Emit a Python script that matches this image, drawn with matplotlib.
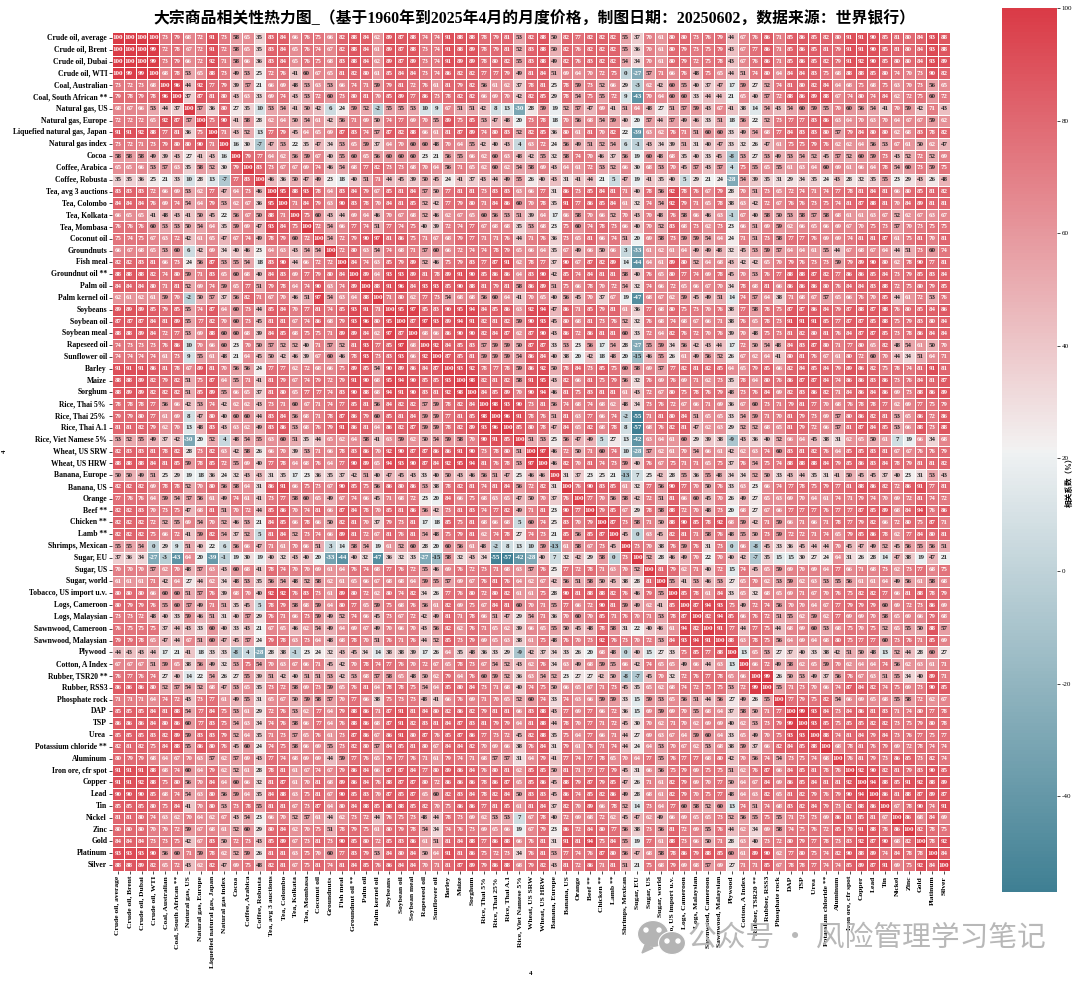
import numpy as np
import pandas as pd
import seaborn as sns
import matplotlib
matplotlib.use("Agg")
import matplotlib.pyplot as plt
from matplotlib.patches import Ellipse, Polygon

labels = ["Crude oil, average", "Crude oil, Brent", "Crude oil, Dubai", "Crude oil, WTI", "Coal, Australian",
	"Coal, South African **", "Natural gas, US", "Natural gas, Europe", "Liquefied natural gas, Japan", "Natural gas index",
	"Cocoa", "Coffee, Arabica", "Coffee, Robusta", "Tea, avg 3 auctions", "Tea, Colombo", "Tea, Kolkata", "Tea, Mombasa",
	"Coconut oil", "Groundnuts", "Fish meal", "Groundnut oil **", "Palm oil", "Palm kernel oil", "Soybeans", "Soybean oil",
	"Soybean meal", "Rapeseed oil", "Sunflower oil", "Barley", "Maize", "Sorghum", "Rice, Thai 5% ", "Rice, Thai 25% ",
	"Rice, Thai A.1", "Rice, Viet Namese 5%", "Wheat, US SRW", "Wheat, US HRW", "Banana, Europe", "Banana, US", "Orange",
	"Beef **", "Chicken **", "Lamb **", "Shrimps, Mexican", "Sugar, EU", "Sugar, US", "Sugar, world",
	"Tobacco, US import u.v.", "Logs, Cameroon", "Logs, Malaysian", "Sawnwood, Cameroon", "Sawnwood, Malaysian", "Plywood",
	"Cotton, A Index", "Rubber, TSR20 **", "Rubber, RSS3", "Phosphate rock", "DAP", "TSP", "Urea ", "Potassium chloride **",
	"Aluminum", "Iron ore, cfr spot", "Copper", "Lead", "Tin", "Nickel", "Zinc", "Gold", "Platinum", "Silver"]

# matrix is symmetric, only the upper blocks are kept
# rows 0-23, cols 0-23
block_a = [
	[100,100,100,100,73,79,68,72,91,73,58,65,35,83,84,66,76,75,66,82,88,84,62,89],
	[100,100,100,99,72,78,67,72,91,72,58,65,35,83,84,65,76,74,67,82,88,84,61,89],
	[100,100,100,99,73,79,66,72,92,71,58,66,36,83,84,65,76,75,68,83,88,84,62,89],
	[100,99,99,100,68,78,53,65,88,73,49,53,25,72,76,41,60,67,65,81,82,80,61,85],
	[73,72,73,68,100,96,44,92,77,79,39,57,21,66,69,48,53,63,53,66,74,71,59,79],
	[79,78,79,78,96,100,37,87,81,80,43,63,33,69,74,43,53,72,60,73,80,81,70,85],
	[68,67,66,53,44,37,100,57,36,80,27,35,10,53,54,41,50,42,6,24,59,52,-2,55],
	[72,72,72,65,92,87,57,100,75,90,41,58,28,62,64,50,54,61,42,56,71,69,50,74],
	[91,91,92,88,77,81,36,75,100,71,43,52,13,77,79,45,64,65,69,87,83,74,57,87],
	[73,72,71,73,79,80,80,90,71,100,16,30,-7,47,53,22,35,47,34,53,65,59,37,64],
	[58,58,58,49,39,43,27,41,43,16,100,79,77,64,62,56,59,67,40,55,60,65,56,60],
	[65,65,66,53,57,63,35,58,52,30,79,100,83,73,67,67,69,74,46,54,68,77,82,73],
	[35,35,36,25,21,33,10,28,13,-7,77,83,100,46,36,50,47,49,23,18,40,51,71,44],
	[83,83,83,72,66,69,53,62,77,47,64,73,46,100,95,88,93,78,64,83,84,79,67,85],
	[84,84,84,76,69,74,54,64,79,53,62,67,36,95,100,71,84,79,63,90,83,78,70,84],
	[66,65,65,41,48,43,41,50,45,22,56,67,50,88,71,100,75,60,43,44,69,64,46,70],
	[76,76,76,60,53,53,50,54,64,35,59,69,47,93,84,75,100,72,54,66,77,74,51,77],
	[75,74,75,67,63,72,42,61,65,47,67,74,49,78,79,60,72,100,54,72,79,90,97,81],
	[66,67,68,65,53,60,6,42,69,34,40,46,23,64,63,43,54,54,100,72,80,63,54,74],
	[82,82,83,81,66,73,24,56,87,53,55,54,18,83,90,44,66,72,72,100,84,74,63,85],
	[88,88,88,82,74,80,59,71,83,65,60,68,40,84,83,69,77,79,80,84,100,89,64,93],
	[84,84,84,80,71,81,52,69,74,59,65,77,51,79,78,64,74,90,63,74,89,100,88,91],
	[62,61,62,61,59,70,-2,50,57,37,56,82,71,67,70,46,51,97,54,63,64,88,100,71],
	[89,89,89,85,79,85,55,74,87,64,60,73,44,85,84,70,77,81,74,85,93,91,71,100],
]
# rows 0-23, cols 24-46
block_b = [
	[87,88,74,74,91,88,88,78,79,81,53,82,88,50,82,77,82,82,82,55,37,70,61],
	[87,88,73,74,91,88,89,78,79,81,52,83,88,50,82,76,82,82,82,55,36,70,61],
	[87,89,73,74,91,89,89,78,80,82,55,83,88,49,82,76,83,82,82,54,34,70,61],
	[84,84,73,74,86,82,82,77,77,79,49,81,84,51,69,64,70,72,75,0,-27,57,71],
	[81,72,76,61,81,79,82,56,61,62,37,78,81,25,78,59,73,52,66,29,-3,62,42],
	[89,77,86,73,78,82,82,66,69,70,42,82,85,29,78,54,75,55,72,9,-43,70,64],
	[55,53,10,9,67,51,51,42,8,13,-30,28,59,19,52,57,47,69,41,51,64,48,27],
	[77,69,70,55,89,75,85,53,47,48,20,73,78,18,70,56,68,54,59,40,20,57,44],
	[82,88,66,61,81,87,89,74,80,83,52,82,85,36,80,61,81,70,82,22,-39,63,62],
	[70,60,60,48,70,64,55,42,40,43,4,63,72,24,56,49,51,52,54,6,-1,43,34],
	[60,60,23,21,56,55,66,62,60,63,48,42,55,32,58,74,70,46,37,56,19,60,48],
	[73,68,70,64,56,71,65,62,60,62,54,58,69,43,64,61,72,53,52,66,30,68,53],
	[45,39,50,45,24,41,37,43,44,49,55,26,40,43,31,41,44,21,5,47,19,41,35],
	[81,84,57,50,77,81,81,73,83,83,63,66,77,31,86,73,85,84,81,71,40,78,56],
	[81,85,52,42,77,79,80,71,84,86,60,70,78,35,91,77,86,85,84,61,32,74,54],
	[67,68,52,46,62,67,65,60,56,53,51,39,64,17,66,58,70,66,52,70,43,70,48],
	[74,75,40,39,72,74,77,67,68,68,35,53,68,23,75,60,74,78,73,66,40,70,52],
	[86,75,71,67,68,79,77,71,71,76,44,71,76,36,73,65,81,66,74,51,20,69,58],
	[68,71,57,60,66,72,74,74,78,79,65,66,64,35,67,49,66,50,66,3,-33,61,62],
	[79,89,52,46,75,79,83,77,87,91,62,78,77,37,90,67,87,82,89,14,-44,64,61],
	[93,89,81,78,89,91,90,85,86,86,64,83,90,42,85,74,84,81,81,58,40,76,65],
	[96,84,93,93,85,90,88,81,79,81,58,86,89,51,75,66,78,70,72,54,32,74,66],
	[80,62,77,73,54,68,68,56,60,64,41,70,65,40,56,45,70,37,67,19,-47,68,67],
	[95,97,85,83,90,95,94,84,85,86,63,92,94,47,86,71,85,79,81,61,36,77,68],
]
# rows 0-23, cols 47-70
block_c = [
	[80,80,73,76,79,44,67,76,86,71,85,86,85,82,80,91,91,90,85,81,80,84,93,88],
	[80,79,73,75,79,43,67,77,86,71,85,86,85,81,79,91,91,90,85,81,80,84,93,88],
	[80,79,72,75,78,43,67,76,86,71,85,86,85,82,79,91,92,90,85,80,80,84,93,89],
	[66,76,48,75,65,44,51,74,80,64,84,84,83,75,68,88,88,85,80,74,70,73,90,82],
	[60,55,40,37,47,17,59,27,52,74,81,80,82,84,64,68,75,68,75,63,70,73,56,65],
	[60,60,33,44,44,21,65,40,57,72,88,86,89,88,67,74,80,74,84,62,72,75,60,72],
	[51,57,59,43,67,41,38,14,54,43,54,60,59,55,70,60,56,54,41,70,59,42,71,43],
	[57,49,46,33,51,18,56,22,52,73,77,77,83,86,63,64,70,63,70,64,67,67,59,62],
	[76,71,51,60,60,33,49,54,68,77,84,83,83,80,57,79,84,80,80,62,68,83,78,82],
	[39,51,31,40,47,33,32,26,47,61,75,75,79,76,62,62,64,56,53,67,61,50,62,47],
	[68,35,40,33,45,-8,53,27,53,49,53,54,52,45,57,52,60,59,73,43,52,72,52,69],
	[70,45,57,43,57,4,75,55,65,55,61,63,64,60,69,61,66,64,78,54,60,73,59,75],
	[40,5,29,21,24,-28,54,39,35,31,29,34,35,24,43,28,32,35,55,23,29,43,26,48],
	[92,78,76,67,79,28,70,51,73,65,72,74,71,74,77,78,81,84,81,66,80,85,81,82],
	[92,79,71,65,78,38,63,42,72,67,76,76,73,75,74,81,87,88,81,70,84,89,81,81],
	[76,58,66,46,63,-1,67,40,58,50,53,58,57,58,68,61,61,63,67,52,62,67,63,67],
	[83,68,73,62,73,23,66,51,69,59,62,66,65,66,69,67,70,75,73,57,70,73,75,75],
	[73,59,59,54,64,24,71,51,73,58,77,77,76,69,69,74,81,81,87,61,75,81,70,81],
	[61,64,49,49,48,32,45,53,59,57,64,64,61,55,44,67,68,67,64,44,51,73,60,74],
	[89,80,52,64,68,43,42,42,65,70,79,76,73,73,59,79,89,90,80,62,78,90,77,81],
	[80,77,74,69,78,45,70,53,76,77,88,88,87,82,77,86,86,85,84,73,79,85,83,84],
	[72,65,66,67,70,34,78,68,81,66,86,86,86,80,76,84,84,83,88,72,75,80,79,85],
	[62,59,45,49,51,14,74,57,64,38,71,68,67,57,65,66,76,70,85,44,61,72,53,76],
	[80,75,73,70,76,38,77,58,78,75,87,87,86,84,79,87,88,87,88,76,80,85,84,86],
]
# rows 24-46, cols 24-46
block_d = [
	[100,87,97,93,89,94,91,82,81,82,59,90,93,45,80,68,81,73,76,52,32,76,68],
	[87,100,68,66,86,90,90,82,84,87,62,87,90,43,86,72,86,81,81,60,33,72,64],
	[97,68,100,92,84,85,83,57,59,59,50,87,87,33,53,23,56,17,54,28,-27,55,59],
	[93,66,92,100,87,85,81,59,59,59,54,86,84,40,38,20,42,18,48,20,-15,46,55],
	[89,86,84,87,100,93,92,78,77,78,59,86,92,50,78,84,73,85,75,60,58,69,57],
	[94,90,85,85,93,100,98,82,81,82,58,91,95,43,82,66,81,75,79,56,32,76,69],
	[91,90,83,81,92,98,100,84,85,89,70,90,94,46,81,75,83,81,81,61,43,72,67],
	[82,82,57,59,78,82,84,100,98,93,90,73,81,56,74,68,74,68,62,48,34,73,76],
	[81,84,59,59,77,81,85,98,100,96,91,78,76,51,81,63,77,66,74,-2,-55,71,81],
	[82,87,59,59,78,82,89,93,96,100,85,80,78,47,84,65,82,68,78,8,-57,68,76],
	[59,62,50,54,59,58,70,90,91,85,100,51,53,25,56,47,49,5,27,13,-42,63,64],
	[90,87,87,86,86,91,90,73,78,80,51,100,97,46,72,50,71,60,74,10,-28,57,62],
	[93,90,87,84,92,95,94,81,76,78,53,97,100,46,82,70,81,74,73,59,40,76,67],
	[45,43,33,40,50,43,46,56,51,47,25,46,46,100,31,37,23,25,21,-13,7,25,42],
	[80,86,53,38,78,82,81,74,81,84,56,72,82,31,100,76,90,83,85,61,32,77,56],
	[68,72,23,20,84,66,75,68,63,65,47,50,70,37,76,100,77,70,56,58,42,72,51],
	[81,86,56,42,73,81,83,74,77,82,49,71,81,23,90,77,100,79,85,67,29,78,58],
	[73,81,17,18,85,75,81,68,66,68,5,60,74,25,83,70,79,100,87,73,58,71,50],
	[76,81,54,48,75,79,81,62,74,78,27,74,73,21,85,56,85,87,100,45,0,63,45],
	[52,60,28,20,60,56,61,48,-2,8,13,10,59,-13,61,58,67,73,45,100,73,70,38],
	[32,33,-27,-15,58,32,43,34,-55,-57,-42,-28,40,7,32,42,29,58,0,73,100,52,28],
	[76,72,55,46,69,76,72,73,71,68,63,57,76,25,77,72,78,71,63,70,52,100,81],
	[68,64,59,55,57,69,67,76,81,76,64,62,67,42,56,51,58,50,45,38,28,81,100],
]
# rows 24-46, cols 47-70
block_e = [
	[74,68,67,66,71,38,76,65,78,73,91,91,91,85,77,87,87,85,88,75,79,83,80,84],
	[82,76,72,70,76,39,70,48,75,73,81,82,80,81,76,84,87,87,85,73,78,86,84,84],
	[34,56,42,43,44,17,72,50,54,48,84,83,87,80,71,77,80,65,82,48,54,61,50,70],
	[26,61,49,56,52,26,67,62,64,41,80,81,76,67,61,80,72,60,70,44,34,51,64,71],
	[77,82,81,82,85,64,65,79,85,66,82,84,85,84,79,89,86,82,75,78,74,81,91,81],
	[76,69,71,62,73,35,78,64,80,76,86,87,87,84,74,86,86,83,86,73,76,84,81,87],
	[80,75,78,76,79,48,73,76,84,69,82,83,86,82,71,84,86,84,86,69,73,88,86,89],
	[72,67,66,71,69,36,67,60,73,71,79,81,77,70,68,76,78,78,77,62,69,77,75,79],
	[80,84,51,65,65,33,54,59,71,70,81,79,73,69,57,80,86,82,81,53,65,86,72,86],
	[82,81,47,62,63,29,52,52,68,65,81,79,72,66,57,81,87,84,85,53,66,88,73,88],
	[61,60,29,39,38,-9,43,36,40,52,66,64,45,38,31,62,65,50,61,7,19,66,34,68],
	[61,70,54,66,61,42,62,63,74,60,83,81,82,76,64,85,85,83,81,67,67,76,76,79],
	[75,71,71,65,75,37,76,54,75,74,88,88,88,84,79,85,86,83,84,78,79,81,81,82],
	[28,55,36,55,48,34,34,52,50,33,43,44,35,31,41,50,45,45,37,40,23,31,53,43],
	[90,77,70,50,76,33,63,23,66,74,77,78,75,79,77,81,88,86,82,72,86,91,77,81],
	[81,66,60,45,70,26,49,27,65,63,69,70,64,61,74,71,79,74,70,69,72,81,74,72],
	[88,72,70,48,73,20,68,27,67,66,77,77,77,76,77,77,87,85,89,68,84,94,76,86],
	[88,90,85,78,92,68,59,42,71,59,66,71,66,71,78,77,79,82,66,72,80,75,87,71],
	[82,81,71,58,76,48,55,50,73,59,72,72,71,74,65,79,85,86,78,62,77,84,80,81],
	[76,59,76,31,73,0,66,-8,45,33,36,45,44,44,70,45,47,49,52,45,56,55,56,51],
	[46,49,70,22,70,40,42,-7,35,15,15,30,27,24,64,31,26,28,14,47,38,19,47,21],
	[79,62,71,40,72,15,74,45,65,59,69,70,69,64,77,66,71,68,73,62,73,77,68,75],
	[55,41,53,46,53,27,65,70,62,53,59,62,63,53,55,56,61,61,64,49,56,61,58,68],
]
# rows 47-70, cols 47-70
block_f = [
	[100,85,78,61,84,33,65,32,68,65,69,71,67,70,76,75,82,82,77,66,81,88,78,79],
	[85,100,87,94,93,75,49,72,74,56,70,70,64,67,77,79,79,79,60,69,72,73,86,69],
	[78,87,100,82,94,85,66,76,72,51,55,62,59,62,77,69,69,70,58,65,69,66,79,68],
	[61,94,82,100,91,77,44,77,75,44,68,69,60,53,68,75,70,75,52,65,55,50,88,57],
	[84,93,94,91,100,88,63,78,75,56,64,69,64,68,80,75,77,77,60,73,76,71,85,69],
	[33,75,85,77,88,100,13,65,53,27,37,40,33,38,42,51,50,48,13,52,44,28,60,27],
	[65,49,66,44,63,13,100,66,72,49,58,62,65,59,70,62,64,64,74,56,62,63,61,71],
	[32,72,76,77,78,65,66,100,99,26,50,53,49,37,56,76,67,63,51,55,34,40,89,71],
	[68,74,72,75,75,53,72,99,100,55,71,73,70,66,74,87,84,82,74,75,69,73,90,85],
	[65,56,51,44,56,27,49,26,55,100,77,79,75,82,54,66,69,65,68,55,58,72,62,67],
	[69,70,55,68,64,37,58,50,71,77,100,99,93,84,73,84,86,81,83,71,74,80,77,78],
	[71,70,62,69,69,40,62,53,73,79,99,100,93,85,75,85,85,82,82,73,75,79,80,78],
	[67,64,59,60,64,33,65,49,70,75,93,93,100,88,74,81,84,79,84,73,76,77,75,77],
	[70,67,62,53,68,38,59,37,66,82,84,85,88,100,68,78,81,76,79,69,72,78,74,74],
	[76,77,77,68,80,42,70,56,74,54,73,75,74,68,100,76,81,79,73,86,85,73,82,74],
	[75,79,69,75,75,51,62,76,87,66,84,85,81,78,76,100,92,90,82,81,79,83,90,85],
	[82,79,69,70,77,50,64,67,84,69,86,85,84,81,81,92,100,94,88,85,91,92,88,89],
	[82,79,70,75,77,48,64,63,82,65,81,82,79,76,79,90,94,100,86,81,88,87,89,87],
	[77,60,58,52,60,13,74,51,74,68,83,82,84,79,73,82,88,86,100,67,78,90,74,91],
	[66,69,65,65,73,52,56,55,75,55,71,73,73,69,86,81,85,81,67,100,86,68,84,69],
	[81,72,69,55,76,44,62,34,69,58,74,75,76,72,85,79,91,88,78,86,100,82,78,75],
	[88,73,66,50,71,28,63,40,73,72,80,79,77,78,73,83,92,87,90,68,82,100,78,92],
	[78,86,79,88,85,60,61,89,90,62,77,80,75,74,82,90,88,89,74,84,78,78,100,84],
	[79,69,68,57,69,27,71,71,85,67,78,78,77,74,74,85,89,87,91,69,75,92,84,100],
]

title = "大宗商品相关性热力图_（基于1960年到2025年4月的月度价格，制图日期：20250602，数据来源：世界银行）"
cbar_label = "相关系数（%）"
mark = "公众号 · 风险管理学习笔记"

serif = ["Liberation Serif", "Noto Sans CJK SC"]
plt.rcParams["font.family"] = serif
plt.rcParams["axes.unicode_minus"] = False

mat = np.zeros((71, 71))
mat[0:24, 0:24] = block_a
mat[0:24, 24:47] = block_b
mat[0:24, 47:71] = block_c
mat[24:47, 24:47] = block_d
mat[24:47, 47:71] = block_e
mat[47:71, 47:71] = block_f
upper = np.triu(mat)
mat = upper + upper.T - np.diag(np.diag(mat))
corr = pd.DataFrame(mat, index=labels, columns=labels)

fig = plt.figure(figsize=(10.8, 9.82), dpi=100)
W, H = 1080.0, 982.0
ax = fig.add_axes([112 / W, 1 - 871 / H, 838 / W, 839 / H])
cax = fig.add_axes([1002 / W, 1 - 892 / H, 55 / W, 884 / H])

cmap = sns.diverging_palette(220, 10, as_cmap=True)
sns.heatmap(corr, ax=ax, cbar_ax=cax, cmap=cmap, vmin=mat.min(), vmax=mat.max(), annot=True, fmt=".0f",
	annot_kws={"size": 5.0, "family": serif, "fontweight": "bold"}, linewidths=0.6, linecolor="white",
	xticklabels=True, yticklabels=True)

ax.tick_params(axis="both", length=2, width=0.5, pad=1.5)
plt.setp(ax.get_xticklabels(), rotation=90, fontsize=5.4, fontweight="bold")
plt.setp(ax.get_yticklabels(), rotation=0, fontsize=5.5, fontweight="bold")
ax.set_xlabel("4", fontsize=5, fontweight="bold", labelpad=0)
ax.xaxis.set_label_coords(0.5, -0.119)
ax.set_ylabel("4", fontsize=5, fontweight="bold")
ax.yaxis.set_label_coords(-0.125, 0.5)
fig.text(534 / W, 1 - 20 / H, title, ha="center", va="center", fontsize=11.4, fontweight="bold")

cax.tick_params(length=2, width=0.5, labelsize=5, pad=1.5)
cax.set_ylabel(cbar_label, fontsize=5.5, fontweight="bold", va="center")
cax.yaxis.set_label_coords(1.24, 0.466)
for spine in cax.spines.values():
	spine.set_visible(False)

# watermark in the lower right corner
gray = "#b4b4b4"
fig.text(688 / W, 1 - 938 / H, mark, ha="left", va="center", fontsize=20.7, color=gray,
	family=["Noto Sans CJK SC", "DejaVu Sans"], alpha=0.95)
bubbles = [(653, 934, 31, 27), (672, 943, 27, 23)]
for bx, by, bw, bh in bubbles:
	fig.add_artist(Ellipse((bx / W, 1 - by / H), bw / W, bh / H, transform=fig.transFigure, color=gray, ec="white", lw=0.8))
fig.add_artist(Polygon([[645 / W, 1 - 945 / H], [642 / W, 1 - 953 / H], [653 / W, 1 - 948 / H]], transform=fig.transFigure, color=gray))
for ex, ey in [(646, 930), (659, 930), (667, 941), (678, 941)]:
	fig.add_artist(Ellipse((ex / W, 1 - ey / H), 4 / W, 4 / H, transform=fig.transFigure, color="white"))

fig.savefig("out.png", dpi=100)
